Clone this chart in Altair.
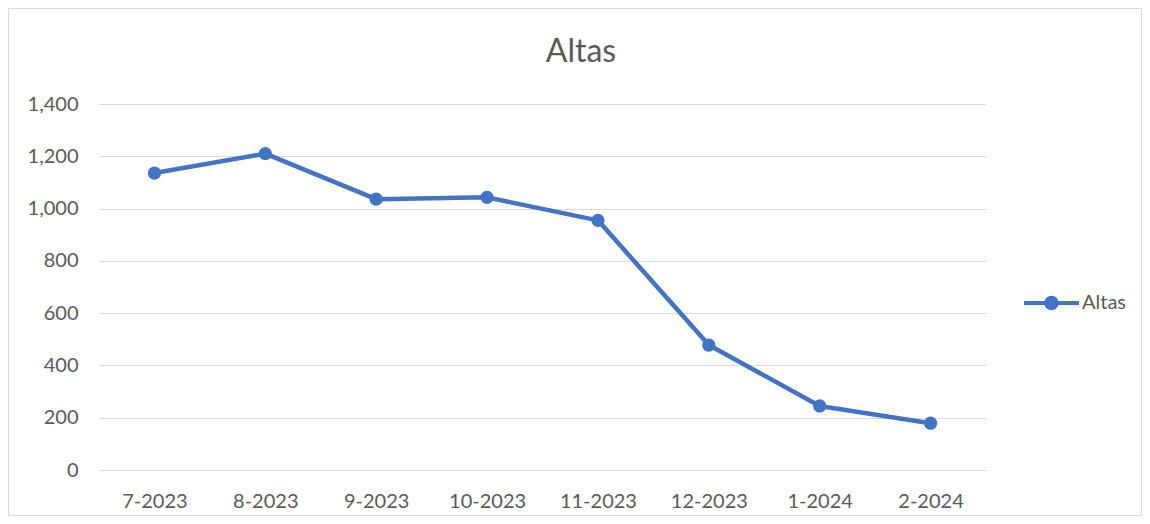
import altair as alt
import pandas as pd

months = ["7-2023", "8-2023", "9-2023", "10-2023", "11-2023", "12-2023", "1-2024", "2-2024"]
altas = [1136, 1210, 1036, 1043, 955, 478, 245, 179]
series = ["Altas"] * len(months)
y_ticks = [0, 200, 400, 600, 800, 1000, 1200, 1400]
chart_title = "Altas"

df = pd.DataFrame({"mes": months, "valor": altas, "serie": series})
title_df = pd.DataFrame({"t": [chart_title]})

BLUE = "#4472C4"
TXT = "#595959"
FONT = "Lato"

W, H = 887, 366
PAD = {"left": 91, "top": 96, "right": 156, "bottom": 46}

x = alt.X("mes:N", sort=months, title=None,
          scale=alt.Scale(type="point", padding=0.5),
          axis=alt.Axis(labelAngle=0, labelFont=FONT, labelFontSize=20, labelColor=TXT,
                        labelPadding=21, ticks=False, domain=False, grid=False))
y = alt.Y("valor:Q", title=None,
          scale=alt.Scale(domain=[0, 1400], nice=False),
          axis=alt.Axis(values=y_ticks, format=",d", labelFont=FONT, labelFontSize=20,
                        labelColor=TXT, labelPadding=21, ticks=False, domain=False,
                        grid=True, gridColor="#D9D9D9", gridWidth=1))

color_scale = alt.Scale(domain=["Altas"], range=[BLUE])

# legend symbol: line with a dot in the middle
sym = ("M -1 -0.075 L 1 -0.075 L 1 0.075 L -1 0.075 Z "
       "M 0.26 0 A 0.26 0.26 0 1 1 -0.26 0 A 0.26 0.26 0 1 1 0.26 0 Z")

frame = alt.Chart(title_df).mark_rect(fill=None, stroke="#D9D9D9", strokeWidth=1).encode(
    x=alt.value(-90.5), x2=alt.value(W + PAD["right"] - 0.5),
    y=alt.value(-95.5), y2=alt.value(H + PAD["bottom"] - 0.5))

title = alt.Chart(title_df).mark_text(font=FONT, fontSize=32, color=TXT, align="center",
                                      baseline="alphabetic").encode(
    x=alt.value(482), y=alt.value(-42), text="t:N")

line = alt.Chart(df).mark_line(strokeWidth=4.5, strokeCap="round", strokeJoin="round",
                               color=BLUE).encode(x=x, y=y)

points = alt.Chart(df).mark_circle(size=175, opacity=1).encode(
    x=x, y=y,
    color=alt.Color("serie:N", scale=color_scale,
                    legend=alt.Legend(title=None, orient="none", legendX=925, legendY=171.5,
                                      symbolType=sym, symbolSize=3025, symbolStrokeWidth=0,
                                      symbolOpacity=1, symbolFillColor=BLUE,
                                      labelFont=FONT, labelFontSize=20, labelColor=TXT,
                                      labelOffset=3, padding=0)))

chart = alt.layer(frame, title, line, points).properties(
    width=W, height=H,
    padding=PAD,
    autosize=alt.AutoSizeParams(type="none"),
).configure_view(stroke=None)

chart.save("out.html", embed_options={"renderer": "svg", "actions": False})
